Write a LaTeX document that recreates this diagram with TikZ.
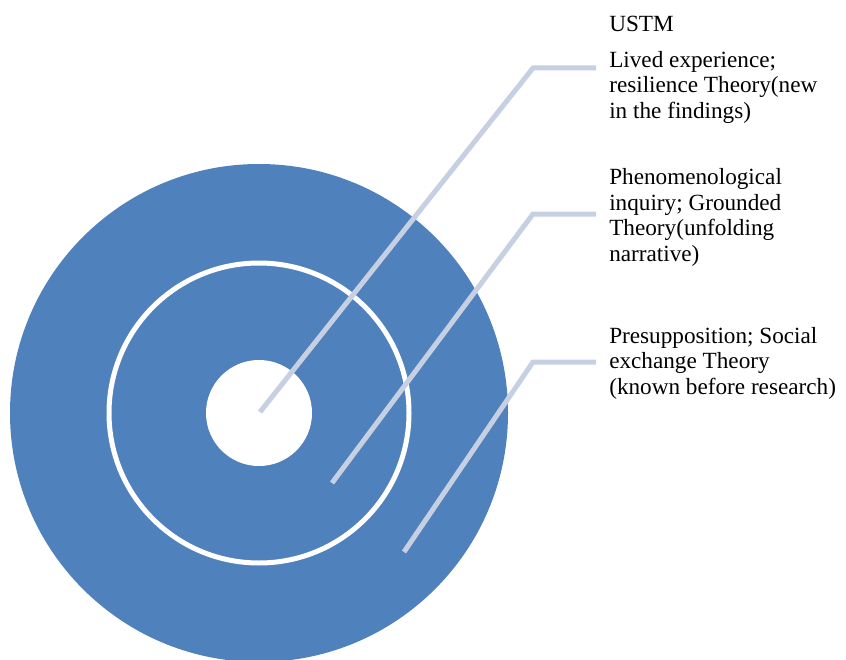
\documentclass[tikz,border=0pt]{standalone}
\usepackage{fontspec}
\setmainfont{Liberation Serif}
\definecolor{ringblue}{RGB}{79,129,189}
\definecolor{leadgrey}{RGB}{198,208,226}
\tikzset{
  leader/.style={draw=leadgrey, line width=3.75pt},
  layertext/.style={anchor=base west, align=left, inner sep=0pt, font=\fontsize{17.4}{19.1}\selectfont}
}
\begin{document}
\begin{tikzpicture}[x=0.75pt, y=-0.75pt]
\useasboundingbox (0,0) rectangle (846,660);
\begin{scope}
\clip (0,0) rectangle (846,660);
\fill[ringblue] (259,413) circle (249);
\end{scope}
\draw[white, line width=3.75pt] (259,413) circle (150);
\fill[white] (259,413) circle (53);
% labels (base = last line)
\node[layertext] (title) at (609,32) {USTM};
\node[layertext] (inner) at (609,118) {Lived experience;\\resilience Theory(new\\in the findings)};
\node[layertext] (middle) at (609,261) {Phenomenological\\inquiry; Grounded\\Theory(unfolding\\narrative)};
\node[layertext] (outer) at (609,394) {Presupposition; Social\\exchange Theory\\(known before research)};
% leaders
\coordinate (p1) at (260,412);
\coordinate (p2) at (332,483);
\coordinate (p3) at (404,552);
\draw[leader] (p1) -- (533,68) -- (596,68);
\draw[leader] (p2) -- (533,214) -- (596,214);
\draw[leader] (p3) -- (533,362) -- (596,362);
\end{tikzpicture}
\end{document}
